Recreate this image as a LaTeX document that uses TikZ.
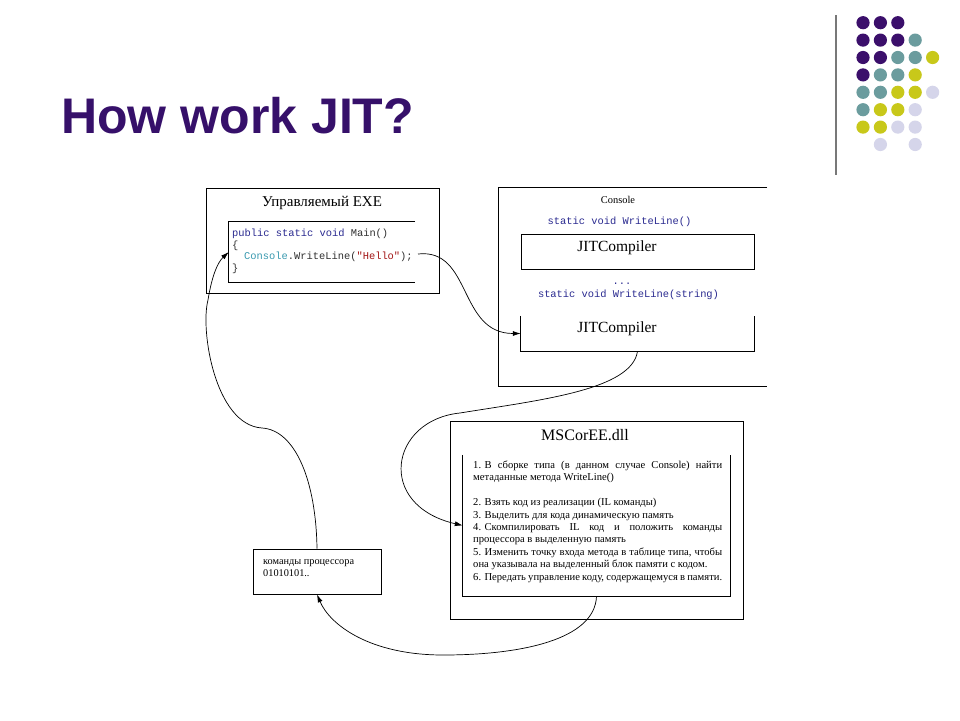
\documentclass[tikz,border=0pt]{standalone}
\usepackage{fontspec}
\setmainfont{Liberation Serif}
\setmonofont{Liberation Mono}
\newfontfamily\titlefam{Liberation Sans}
\usetikzlibrary{arrows.meta}
\definecolor{titlepurple}{HTML}{36106A}
\definecolor{dotP}{HTML}{3B0F6B}
\definecolor{dotT}{HTML}{6B9C9E}
\definecolor{dotY}{HTML}{C8C81A}
\definecolor{dotL}{HTML}{D5D5EA}
\definecolor{kwblue}{HTML}{2A2A90}
\definecolor{typeteal}{HTML}{3A9AB0}
\definecolor{strred}{HTML}{A31515}
\definecolor{codegray}{HTML}{303030}
\definecolor{rulegray}{HTML}{787878}
\begin{document}
\begin{tikzpicture}[x=1pt,y=-1pt,
  frame/.style={rectangle, inner sep=0pt, line width=0.8pt, draw=black},
  openframe/.style={rectangle, inner sep=0pt, draw=none},
  edge/.style={line width=0.8pt},
  conn/.style={line width=0.7pt, -{Latex[length=8pt,width=5pt]}},
  code/.style={font=\fontsize{10.4}{12}\ttfamily, text=codegray, anchor=west, inner sep=0pt, text height=7pt, text depth=2pt},
  boxtitle/.style={font=\fontsize{15.5}{18}\selectfont, inner sep=0pt},
  smalltxt/.style={inner sep=0pt, anchor=base west}
]
\useasboundingbox (0,0) rectangle (960,720);
\fill[white] (0,0) rectangle (960,720);

% decoration
\draw[rulegray, line width=2pt] (836,15) -- (836,175);
\foreach \c/\r/\col in {0/0/dotP,1/0/dotP,2/0/dotP,
  0/1/dotP,1/1/dotP,2/1/dotP,3/1/dotT,
  0/2/dotP,1/2/dotP,2/2/dotT,3/2/dotT,4/2/dotY,
  0/3/dotP,1/3/dotT,2/3/dotT,3/3/dotY,
  0/4/dotT,1/4/dotT,2/4/dotY,3/4/dotY,4/4/dotL,
  0/5/dotT,1/5/dotY,2/5/dotY,3/5/dotL,
  0/6/dotY,1/6/dotY,2/6/dotL,3/6/dotL,
  1/7/dotL,3/7/dotL}
  \fill[\col] (863+17.4*\c, 22.7+17.4*\r) circle[radius=6.6pt];

% title
\node[anchor=base west, inner sep=0pt, text=titlepurple,
      font=\titlefam\bfseries\fontsize{50}{60}\selectfont] (title) at (61,133) {How work JIT?};

% Managed EXE
\node[frame, minimum width=233, minimum height=105] (exe) at (322.5,240.5) {};
\node[boxtitle, font=\fontsize{15}{18}\selectfont] (exet) at (322,203) {Управляемый EXE};
\node[openframe, minimum width=186, minimum height=60] (codebox) at (322,252) {};
\draw[edge] (codebox.north east) -- (codebox.north west) -- (codebox.south west) -- (codebox.south east);
\node[code] (l1) at (232,234) {\textcolor{kwblue}{public static void} Main()};
\node[code] (l2) at (232,246) {\{};
\node[code] (l3) at (244,257) {\textcolor{typeteal}{Console}.WriteLine(\textcolor{strred}{"Hello"});};
\node[code] (l4) at (232,269) {\}};
\coordinate (hello) at (418,254);

% Console
\node[openframe, minimum width=268, minimum height=198] (con) at (633,287) {};
\draw[edge] (con.north east) -- (con.north west) -- (con.south west) -- (con.south east);
\node[inner sep=0pt, font=\fontsize{10.4}{12}\selectfont] (cont) at (618,200) {Console};
\node[code, anchor=center, text=kwblue] (wl1) at (619.5,222) {static void WriteLine()};
\node[frame, minimum width=233, minimum height=35] (jit1) at (637.5,251.5) {};
\node[boxtitle] (jit1t) at (617,248) {JITCompiler};
\node[code, anchor=center, text=kwblue] (dots) at (622,282) {...};
\node[code, anchor=center, text=kwblue] (wl2) at (628.5,295) {static void WriteLine(string)};
\node[openframe, minimum width=233, minimum height=35] (jit2) at (637.5,333.5) {};
\draw[edge] (jit2.north west) -- (jit2.south west) -- (jit2.south east) -- (jit2.north east);
\node[boxtitle] (jit2t) at (617,329) {JITCompiler};

% MSCorEE
\node[frame, minimum width=293, minimum height=198] (msout) at (596.5,520) {};
\node[boxtitle, font=\fontsize{16}{18}\selectfont] (mst) at (585,435) {MSCorEE.dll};
\node[openframe, minimum width=267, minimum height=141] (msin) at (596.5,525.5) {};
\draw[edge] (msin.north west) -- (msin.south west) -- (msin.south east) -- (msin.north east);
\node[smalltxt] (steps) at (473,468.5) {\parbox[t]{249pt}{\fontsize{10.6}{12.4}\selectfont
\makebox[249pt][s]{1.\hspace{3.5pt}В сборке типа (в данном случае Console) найти}\par
метаданные метода WriteLine()\par
\vspace{12.4pt}
2. Взять код из реализации (IL команды)\par
3. Выделить для кода динамическую память\par
\makebox[249pt][s]{4.\hspace{3.5pt}Скомпилировать IL код и положить команды}\par
процессора в выделенную память\par
\makebox[249pt][s]{5.\hspace{3.5pt}Изменить точку входа метода в таблице типа, чтобы}\par
она указывала на выделенный блок памяти с кодом.\par
6. Передать управление коду, содержащемуся в памяти.}};

% processor commands
\node[frame, minimum width=128, minimum height=45] (proc) at (317,571.5) {};
\node[smalltxt] (proct) at (263,564.5) {\parbox[t]{115pt}{\fontsize{10.3}{12}\selectfont
команды процессора\par 01010101..}};

% connectors
\draw[conn] (hello) .. controls (472,248) and (458,333.5) .. (jit2.west);
\draw[conn] (jit2.south) .. controls (632,390) and (540,400) .. (460,413)
            .. controls (390,420) and (375,505) .. (msin.west);
\draw[conn] (msin.south) .. controls (595,640) and (520,655) .. (443,655)
            .. controls (370,655) and (330,625) .. (proc.south);
\draw[conn] (proc.north) .. controls (316,480) and (295,430) .. (262,428)
            .. controls (215,425) and (200,330) .. (208,300)
            .. controls (212,275) and (218,262) .. (codebox.west);
\end{tikzpicture}
\end{document}
